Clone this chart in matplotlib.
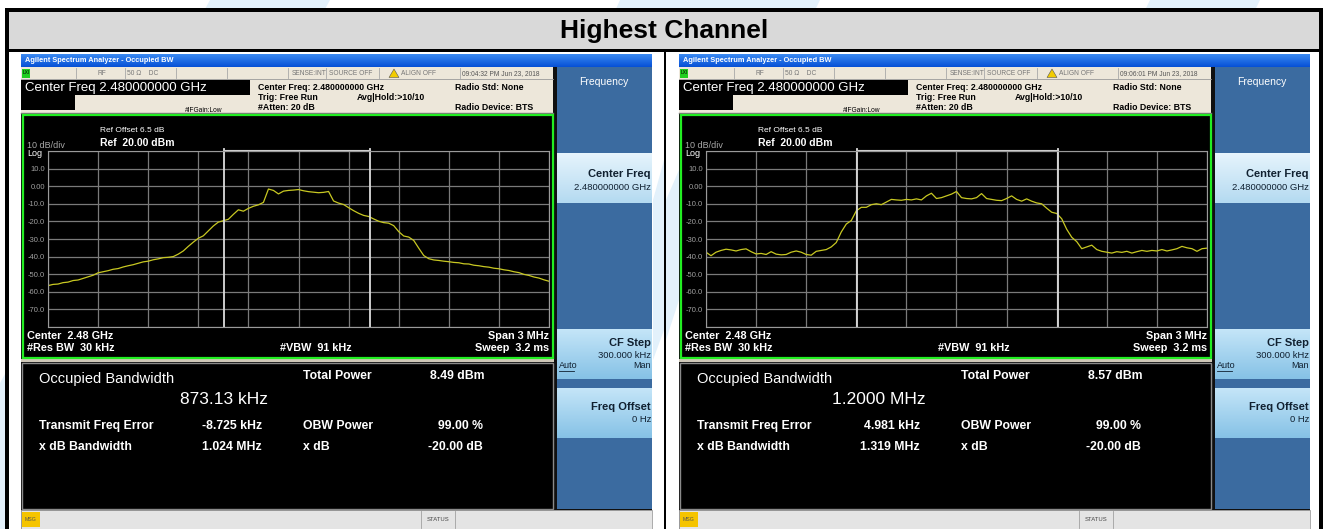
"""Highest channel OBW screenshots, redrawn."""

import matplotlib.colors as mcolors
import matplotlib.patches as patches
import matplotlib.pyplot as plt
import numpy as np

plt.rcParams["font.family"] = ["Liberation Sans", "DejaVu Sans"]

W, H = 1328, 529

title = "Highest Channel"
span_mhz = 3.0
levels_db = [-80, -70, -60, -50, -40, -30, -20, -10, 0, 10, 20]
level_labels = ["", "-70.0", "-60.0", "-50.0", "-40.0", "-30.0",
                "-20.0", "-10.0", "0.00", "10.0", ""]

# trace, one point every 0.03 MHz from -1.5 to +1.5 MHz
freq_offset_mhz = np.linspace(-1.5, 1.5, 101)
trace_left = [
    -56.5, -55.8, -55.6, -54.8, -54.5, -53.6, -53.3, -52.4, -51.5, -50.6,
    -49.2, -48.6, -48.0, -47.2, -46.8, -45.9, -45.2, -44.6, -43.8, -43.0,
    -42.6, -41.8, -41.3, -40.6, -40.4, -40.0, -38.6, -36.8, -34.2, -31.8,
    -29.6, -28.2, -25.4, -22.6, -20.4, -19.6, -18.8, -16.0, -13.4, -14.2,
    -12.6, -11.4, -10.6, -9.2, -1.6, -2.4, -4.4, -2.8, -2.4, -2.2,
    -1.9, -2.6, -3.1, -3.4, -3.7, -3.5, -3.0, -8.4, -9.6, -10.4,
    -12.2, -13.9, -15.4, -16.6, -17.2, -18.6, -19.9, -20.7, -21.0, -22.4,
    -25.8, -28.3, -28.9, -30.8, -35.2, -39.4, -41.2, -41.9, -42.2, -42.6,
    -42.9, -43.3, -43.5, -44.1, -44.2, -44.9, -45.2, -45.7, -46.0, -46.6,
    -46.9, -47.5, -47.9, -48.6, -49.1, -50.1, -50.7, -51.6, -52.2, -53.2,
    -54.0,
]
trace_right = [
    -37.5, -39.5, -37.5, -36.5, -35.8, -36.2, -36.8, -36.0, -35.6, -37.2,
    -38.5, -38.2, -38.8, -37.2, -38.6, -39.0, -38.8, -37.5, -36.8, -37.5,
    -38.8, -39.2, -37.0, -36.5, -36.0, -34.5, -32.0, -26.0, -21.5, -19.5,
    -14.0, -12.0, -12.0, -10.5, -10.0, -10.5, -9.0, -7.5, -7.8, -8.0,
    -7.5, -7.8, -7.2, -7.8, -5.5, -4.0, -7.0, -6.5, -5.5, -4.5,
    -3.0, -6.5, -7.0, -7.2, -6.5, -4.2, -7.0, -7.5, -8.0, -8.2,
    -7.0, -5.5, -7.5, -8.5, -7.2, -8.5, -9.5, -10.0, -12.5, -14.8,
    -15.5, -18.5, -24.5, -29.0, -31.5, -35.5, -34.5, -33.5, -36.0, -37.0,
    -37.5, -38.0, -37.2, -37.6, -37.0, -38.0, -37.2, -36.5, -37.0, -36.5,
    -36.8, -36.0, -36.8, -36.2, -35.5, -34.2, -35.0, -35.5, -37.0, -35.5,
    -35.2,
]

times = ["09:04:32 PM Jun 23, 2018", "09:06:01 PM Jun 23, 2018"]
obw_khz = [873.13, 1200.0]
obw_text = ["873.13 kHz", "1.2000 MHz"]
freq_err_khz = [-8.725, 4.981]
freq_err_text = ["-8.725 kHz", "4.981 kHz"]
total_power = ["8.49 dBm", "8.57 dBm"]
xdb_bw = ["1.024 MHz", "1.319 MHz"]
traces = [trace_left, trace_right]

fig = plt.figure(figsize=(W / 100, H / 100), dpi=100)
bg = fig.add_axes([0, 0, 1, 1])
bg.axis("off")


def box(x0, y0, x1, y1, fc, ec="none", lw=0, z=2):
    bg.add_patch(patches.Rectangle((x0, y0), x1 - x0, y1 - y0, facecolor=fc,
                                   edgecolor=ec, linewidth=lw, zorder=z))


def grad(x0, y0, x1, y1, top, bottom, z=2):
    t = np.linspace(0, 1, 40)[:, None]
    a, b = np.array(mcolors.to_rgb(top)), np.array(mcolors.to_rgb(bottom))
    img = (a * (1 - t) + b * t)[:, None, :]
    bg.imshow(img, extent=(x0, x1, y1, y0), aspect="auto", zorder=z,
              interpolation="bilinear")


def txt(x, y, s, size, color="black", weight="normal", ha="left", **kw):
    bg.text(x, y, s, fontsize=size, color=color, fontweight=weight, ha=ha,
            va="center", zorder=6, **kw)


# faint background stripes
for pts in ([(210, 0), (330, 0), (40, 529), (-80, 529)],
            [(620, 0), (820, 0), (560, 529), (380, 529)],
            [(1150, 0), (1260, 0), (1000, 529), (890, 529)]):
    bg.add_patch(patches.Polygon(pts, facecolor="#e3f1fb", edgecolor="none", zorder=0))

# table frame and title band
box(5, 8, 1323, 529, "black", z=1)
box(9, 52, 664, 529, "white", z=1)
box(666, 52, 1319, 529, "white", z=1)
bg.add_patch(patches.Polygon([(653, 200), (664, 160), (664, 330), (653, 360)],
                             facecolor="#e3f1fb", edgecolor="none", zorder=1))
bg.add_patch(patches.Polygon([(666, 200), (679, 170), (679, 300), (666, 340)],
                             facecolor="#e3f1fb", edgecolor="none", zorder=1))
box(9, 12, 1319, 49, "#d9d9d9", z=1)
txt(664, 31, title, 19, weight="bold", ha="center")


def screen(x0, i):
    x1 = x0 + 631
    box(x0, 54, x1, 529, "#101010")
    grad(x0, 54, x1, 67, "#3a8af2", "#0650d6")
    txt(x0 + 4, 60.5, "Agilent Spectrum Analyzer - Occupied BW", 5.3,
        color="white", weight="bold")

    # status row and setup header
    box(x0, 67, x0 + 532, 113, "#ede7da")
    bg.plot([x0, x0 + 532], [79, 79], color="#9a9a9a", lw=0.6, zorder=3)
    box(x0 + 1, 69, x0 + 9, 77.5, "#1fcf1f")
    txt(x0 + 5, 73, "LXI", 3.5, ha="center")
    for sx in (55, 104, 155, 206, 267, 305, 358, 439):
        bg.plot([x0 + sx, x0 + sx], [68, 78], color="#a8a8a8", lw=0.6, zorder=3)
    txt(x0 + 76, 73.5, "RF", 4.8, color="#777777")
    txt(x0 + 106, 73.5, "50 Ω    DC", 4.8, color="#777777")
    txt(x0 + 271, 73.5, "SENSE:INT", 4.8, color="#777777")
    txt(x0 + 308, 73.5, "SOURCE OFF", 4.8, color="#777777")
    bg.add_patch(patches.Polygon([(x0 + 368, 77.5), (x0 + 378, 77.5), (x0 + 373, 69)],
                                 facecolor="#f2cc00", edgecolor="#555555",
                                 linewidth=0.4, zorder=4))
    txt(x0 + 380, 73.5, "ALIGN OFF", 4.8, color="#777777")
    txt(x0 + 441, 73.5, times[i], 4.8, color="#555555")
    box(x0, 80, x0 + 229, 95, "black")
    box(x0, 95, x0 + 54, 110, "black")
    txt(x0 + 4, 87.5, "Center Freq 2.480000000 GHz", 9.5, color="white")
    txt(x0 + 164, 110, "#IFGain:Low", 4.8)
    txt(x0 + 237, 87, "Center Freq: 2.480000000 GHz", 6.3, weight="bold")
    txt(x0 + 237, 97, "Trig: Free Run", 6.3, weight="bold")
    txt(x0 + 336, 97, "Avg|Hold:>10/10", 6.3, weight="bold")
    txt(x0 + 237, 107, "#Atten: 20 dB", 6.3, weight="bold")
    txt(x0 + 434, 87, "Radio Std: None", 6.3, weight="bold")
    txt(x0 + 434, 107, "Radio Device: BTS", 6.3, weight="bold")
    bg.plot([x0, x0 + 532], [112.5, 112.5], color="#7a7a7a", lw=1, zorder=3)

    # graticule panel
    box(x0 + 2, 115, x0 + 532, 358, "black", ec="#22ee22", lw=1.6, z=3)
    txt(x0 + 79, 131, "Ref Offset 6.5 dB", 6, color="white")
    txt(x0 + 79, 143, "Ref  20.00 dBm", 7.5, color="white", weight="bold")
    txt(x0 + 6, 145, "10 dB/div", 6.5, color="#a8a8a8")
    txt(x0 + 6, 154, "Log", 6.5, color="white")
    txt(x0 + 6, 336, "Center  2.48 GHz", 7.8, color="white", weight="bold")
    txt(x0 + 6, 348, "#Res BW  30 kHz", 7.8, color="white", weight="bold")
    txt(x0 + 259, 348, "#VBW  91 kHz", 7.8, color="white", weight="bold")
    txt(x0 + 528, 336, "Span 3 MHz", 7.8, color="white", weight="bold", ha="right")
    txt(x0 + 528, 348, "Sweep  3.2 ms", 7.8, color="white", weight="bold", ha="right")
    box(x0, 359, x0 + 533, 362, "#cfc8b8")

    # measurement results
    box(x0 + 1, 363, x0 + 532, 509, "black", ec="#8a8a8a", lw=1, z=3)
    txt(x0 + 18, 379, "Occupied Bandwidth", 10.5, color="white")
    txt(x0 + 247, 399, obw_text[i], 12.5, color="white", ha="right")
    txt(x0 + 282, 376, "Total Power", 8.8, color="white", weight="bold")
    txt(x0 + 463, 376, total_power[i], 8.8, color="white", weight="bold", ha="right")
    rows = [("Transmit Freq Error", freq_err_text[i], "OBW Power", "99.00 %", 426),
            ("x dB Bandwidth", xdb_bw[i], "x dB", "-20.00 dB", 447)]
    for name, val, name2, val2, y in rows:
        txt(x0 + 18, y, name, 8.8, color="white", weight="bold")
        txt(x0 + 241, y, val, 8.8, color="white", weight="bold", ha="right")
        txt(x0 + 282, y, name2, 8.8, color="white", weight="bold")
        txt(x0 + 462, y, val2, 8.8, color="white", weight="bold", ha="right")

    # softkeys
    box(x0 + 536, 67, x1, 509, "#3b6ba0")
    txt(x0 + 583, 82, "Frequency", 7.5, color="white", ha="center")
    grad(x0 + 536, 153, x1, 203, "#e6f4fc", "#b4daf1")
    grad(x0 + 536, 329, x1, 379, "#c4e5f8", "#86c2e6")
    grad(x0 + 536, 388, x1, 438, "#c4e5f8", "#86c2e6")
    txt(x0 + 630, 174, "Center Freq", 8, weight="bold", ha="right", color="#102030")
    txt(x0 + 630, 188, "2.480000000 GHz", 6.8, ha="right", color="#102030")
    txt(x0 + 630, 343, "CF Step", 8, weight="bold", ha="right", color="#102030")
    txt(x0 + 630, 355, "300.000 kHz", 6.8, ha="right", color="#102030")
    txt(x0 + 538, 366, "Auto", 6.5, color="#102030")
    bg.plot([x0 + 538, x0 + 553], [370.5, 370.5], color="#102030", lw=0.6, zorder=6)
    txt(x0 + 630, 366, "Man", 6.5, ha="right", color="#102030")
    txt(x0 + 630, 407, "Freq Offset", 8, weight="bold", ha="right", color="#102030")
    txt(x0 + 630, 419, "0 Hz", 6.8, ha="right", color="#102030")

    # status bar
    box(x0, 510, x1, 529, "#e4e4e4", ec="#a0a0a0", lw=0.6)
    box(x0 + 1, 512, x0 + 19, 527, "#f5c400")
    txt(x0 + 10, 519.5, "MSG", 3.8, ha="center", color="#555555")
    for sx in (400, 434):
        bg.plot([x0 + sx, x0 + sx], [511, 528], color="#a0a0a0", lw=0.6, zorder=4)
    txt(x0 + 417, 519.5, "STATUS", 4.2, ha="center", color="#444444")

    # spectrum trace
    gx0, gx1, gy0, gy1 = x0 + 27, x0 + 528, 151, 327
    ax = fig.add_axes([gx0 / W, 1 - gy1 / H, (gx1 - gx0) / W, (gy1 - gy0) / H])
    ax.set_facecolor("black")
    ax.set_xlim(-span_mhz / 2, span_mhz / 2)
    ax.set_ylim(-80, 20)
    ax.set_xticks(np.linspace(-span_mhz / 2, span_mhz / 2, 11))
    ax.set_xticklabels([])
    ax.set_yticks(levels_db)
    ax.set_yticklabels(level_labels, color="#a0a0a0", fontsize=5.5)
    ax.tick_params(length=0, pad=2)
    ax.grid(True, color="#7a7a7a", lw=0.9)
    for s in ax.spines.values():
        s.set_color("#9a9a9a")
    ax.plot(freq_offset_mhz, traces[i], color="#c8c822", lw=0.9)
    lo = freq_err_khz[i] / 1000 - obw_khz[i] / 2000
    hi = freq_err_khz[i] / 1000 + obw_khz[i] / 2000
    for f in (lo, hi):
        ax.axvline(f, color="#dcdcdc", lw=1.3, ymax=1.012, clip_on=False)
    ax.plot([lo, hi], [20.6, 20.6], color="#cfcfcf", lw=0.8, clip_on=False)


screen(21, 0)
screen(679, 1)

bg.set_xlim(0, W)
bg.set_ylim(H, 0)
fig.savefig("out.png", dpi=100)
